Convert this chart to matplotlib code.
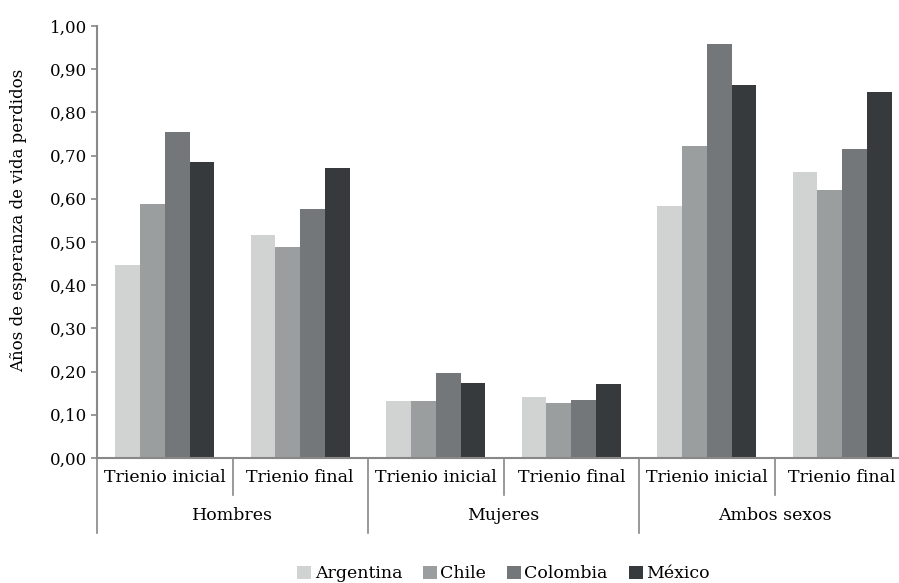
import matplotlib
matplotlib.use("Agg")
import matplotlib.pyplot as plt
import matplotlib.transforms as mtransforms
from matplotlib.ticker import FuncFormatter
import numpy as np

plt.rcParams['font.family'] = ['DejaVu Serif']

countries = ["Argentina", "Chile", "Colombia", "México"]
colors = ["#d1d3d2", "#9b9e9f", "#74777a", "#373a3d"]
periods = ["Trienio inicial", "Trienio final"]
sexes = ["Hombres", "Mujeres", "Ambos sexos"]

# valores por pais: Hombres ini, Hombres fin, Mujeres ini, Mujeres fin, Ambos ini, Ambos fin
argentina = [0.447, 0.517, 0.132, 0.141, 0.584, 0.662]
chile = [0.589, 0.489, 0.132, 0.127, 0.723, 0.621]
colombia = [0.755, 0.577, 0.197, 0.134, 0.959, 0.716]
mexico = [0.686, 0.672, 0.174, 0.171, 0.864, 0.848]
series = [argentina, chile, colombia, mexico]

W, H = 899, 583
fig = plt.figure(figsize=(W / 100, H / 100), dpi=100)
ax = fig.add_axes([97 / W, (H - 458) / H, (910 - 97) / W, (458 - 26) / H])

n = len(argentina)
x = np.arange(n)
bw = 0.183
for i, (vals, c) in enumerate(zip(series, colors)):
    ax.bar(x + (i - 1.5) * bw, vals, width=bw, color=c, label=countries[i])

ax.set_xlim(-0.5, n - 0.5)
ax.set_ylim(0, 1.0)
ax.set_yticks(np.arange(0, 1.01, 0.1))
ax.yaxis.set_major_formatter(FuncFormatter(lambda v, p: f"{v:.2f}".replace(".", ",")))
ax.tick_params(axis='y', labelsize=12, length=4, color="#888888", width=1.2, pad=3)
ax.set_xticks([])

for s in ["top", "right"]:
    ax.spines[s].set_visible(False)
for s in ["left", "bottom"]:
    ax.spines[s].set_color("#888888")
    ax.spines[s].set_linewidth(1.5)

fig.text(19 / W, 1 - 220 / H, "Años de esperanza de vida perdidos", rotation=90,
         ha="center", va="center", fontsize=12)

fs = 12.5
trans = mtransforms.blended_transform_factory(ax.transData, ax.transAxes)
for k in range(n):
    ax.text(k, -0.046, periods[k % 2], transform=trans, ha="center", va="center",
            fontsize=fs)
for k in range(len(sexes)):
    ax.text(2 * k + 0.5, -0.134, sexes[k], transform=trans, ha="center", va="center",
            fontsize=fs)
    ax.plot([2 * k + 0.5, 2 * k + 0.5], [0, -0.086], transform=trans, color="#888888",
            lw=1.2, clip_on=False)
for k in range(len(sexes) + 1):
    ax.plot([2 * k - 0.5, 2 * k - 0.5], [0, -0.174], transform=trans, color="#888888",
            lw=1.2, clip_on=False)

ax.legend(loc="center", bbox_to_anchor=(0.5, -0.268), ncol=4, frameon=False,
          fontsize=fs, handlelength=0.8, handleheight=0.8, handletextpad=0.2,
          columnspacing=1.2, borderaxespad=0, borderpad=0)

fig.savefig("out.png", dpi=100)
